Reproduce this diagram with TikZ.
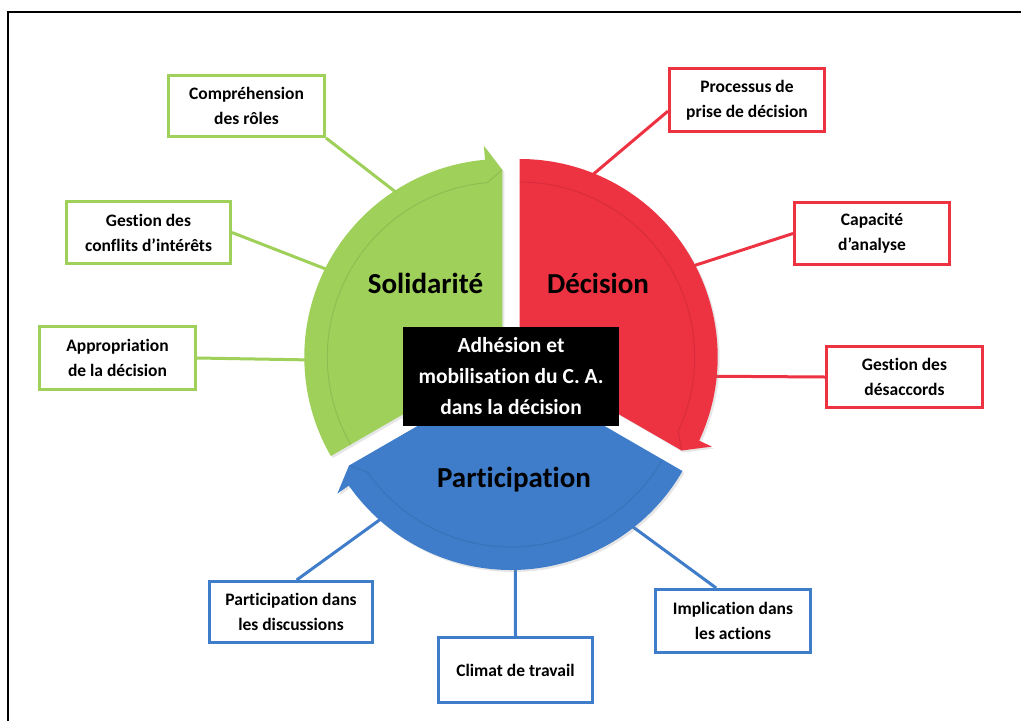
\documentclass[tikz,border=0pt]{standalone}
\usepackage{fontspec}
\setmainfont{Carlito}[Ligatures={NoCommon,TeX}]
\usetikzlibrary{shadows}
\definecolor{solgreen}{RGB}{158,208,90}
\definecolor{decred}{RGB}{237,50,66}
\definecolor{partblue}{RGB}{63,125,202}
\tikzset{
  item/.style={draw=#1,line width=3pt,fill=white,align=center,inner sep=2pt,
    font=\bfseries\fontsize{17.5}{25}\selectfont},
  link/.style={draw=#1,line width=3pt},
  segment/.style={fill=#1,drop shadow={shadow xshift=2pt,shadow yshift=-2pt,opacity=0.2}},
  rim/.style={draw=#1!75!black,line width=1pt,opacity=0.35},
  title/.style={anchor=base,font=\bfseries\fontsize{29}{34}\selectfont},
}
\begin{document}
\begin{tikzpicture}[x=1pt,y=-1pt]
\useasboundingbox (0,0) rectangle (1021,721);
\draw[line width=1.2pt] (8,721) -- (8,12) -- (1021,12);
% centres of the three segments
\coordinate (cg) at (502.3,357);
\coordinate (cr) at (519.7,357);
\coordinate (cb) at (511,372);
% where the links meet the ring (under the segments)
\coordinate (g1) at ([shift={(cg)}]-122.2:190);
\coordinate (g2) at ([shift={(cg)}]-153.3:190);
\coordinate (g3) at ([shift={(cg)}]179.1:190);
\coordinate (r4) at ([shift={(cr)}]-69.2:190);
\coordinate (r5) at ([shift={(cr)}]-28:190);
\coordinate (r6) at ([shift={(cr)}]5.8:190);
\coordinate (b7) at ([shift={(cb)}]131.1:190);
\coordinate (b8) at ([shift={(cb)}]88.7:190);
\coordinate (b9) at ([shift={(cb)}]52.4:190);
% boxes
\node[item=solgreen,minimum width=156pt,minimum height=61pt] (roles) at (246.5,106) {Compréhension\\des rôles};
\node[item=solgreen,minimum width=164pt,minimum height=62pt] (conflits) at (148.5,232.5) {Gestion des\\conflits d’intérêts};
\node[item=solgreen,minimum width=156pt,minimum height=63pt] (appro) at (117.5,358) {Appropriation\\de la décision};
\node[item=decred,minimum width=155pt,minimum height=63pt] (proc) at (747,100) {Processus de\\prise de décision};
\node[item=decred,minimum width=155pt,minimum height=62pt] (capa) at (872,233.5) {Capacité\\d’analyse};
\node[item=decred,minimum width=156pt,minimum height=61pt] (desac) at (904.5,377) {Gestion des\\désaccords};
\node[item=partblue,minimum width=163pt,minimum height=61pt] (discu) at (291,612) {Participation dans\\les discussions};
\node[item=partblue,minimum width=154pt,minimum height=65pt] (climat) at (515.5,670) {Climat de travail};
\node[item=partblue,minimum width=155pt,minimum height=63pt] (impli) at (733,621) {Implication dans\\les actions};
% links
\draw[link=solgreen] (roles.south east) -- (g1);
\draw[link=solgreen] (conflits.east) -- (g2);
\draw[link=solgreen] (appro.east) -- (g3);
\draw[link=decred] (proc.188) -- (r4);
\draw[link=decred] (capa.west) -- (r5);
\draw[link=decred] (desac.west) -- (r6);
\draw[link=partblue] (discu.80) -- (b7);
\draw[link=partblue] (climat.north) -- (b8);
\draw[link=partblue] (impli.117) -- (b9);
% ring segments with their arrow heads
\fill[segment=solgreen] (cg) -- ++(150:198) arc[start angle=150,end angle=265,radius=198]
  -- ([shift={(cg)}]265:212) -- ([shift={(cg)}]270:187) -- cycle;
\fill[segment=decred] (cr) -- ++(270:198) arc[start angle=270,end angle=385,radius=198]
  -- ([shift={(cr)}]385:212) -- ([shift={(cr)}]390:187) -- cycle;
\fill[segment=partblue] (cb) -- ++(30:198) arc[start angle=30,end angle=145,radius=198]
  -- ([shift={(cb)}]145:212) -- ([shift={(cb)}]150:187) -- cycle;
\draw[rim=solgreen] ([shift={(cg)}]150:175) arc[start angle=150,end angle=265,radius=175] -- ([shift={(cg)}]270:187);
\draw[rim=decred] ([shift={(cr)}]270:175) arc[start angle=270,end angle=385,radius=175] -- ([shift={(cr)}]390:187);
\draw[rim=partblue] ([shift={(cb)}]30:175) arc[start angle=30,end angle=145,radius=175] -- ([shift={(cb)}]150:187);
% segment titles
\node[title] (sol) at (425.5,293) {Solidarité};
\node[title] (dec) at (598,293) {Décision};
\node[title] (par) at (514,487) {Participation};
% centre
\node[fill=black,text=white,align=center,inner sep=2pt,minimum width=216pt,minimum height=99pt,
  font=\bfseries\fontsize{21.5}{31}\selectfont] (core) at (511,376.5) {Adhésion et\\mobilisation du C. A.\\dans la décision};
\end{tikzpicture}
\end{document}
